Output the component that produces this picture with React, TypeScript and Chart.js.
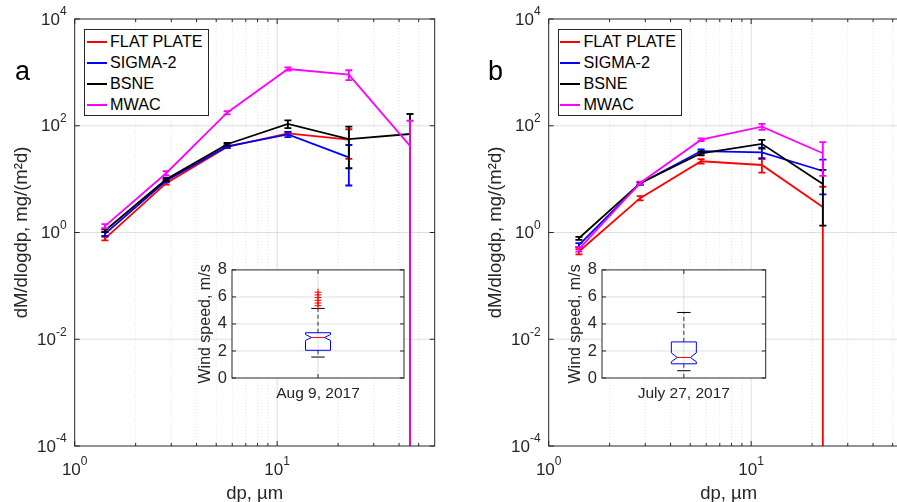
import React, { useEffect, useRef } from 'react';
import { Chart, registerables } from 'chart.js';

Chart.register(...registerables);

const FONT = "'Liberation Sans', Arial, Helvetica, sans-serif";
const AXIS_COLOR = '#262626';

const seriesNames = ['FLAT PLATE', 'SIGMA-2', 'BSNE', 'MWAC'];
const seriesColors = ['#ff0000', '#0000ff', '#000000', '#ff00ff'];

// Axis ticks
const xTickExponents = [0, 1];
const yTickExponents = [-4, -2, 0, 2, 4];
const xMinorTickValues = [2, 3, 4, 5, 6, 7, 8, 9, 20, 30, 40, 50];
const insetYTicks = [0, 2, 4, 6, 8];

// Panel a (Aug 9, 2017)
const dpA = [1.41, 2.83, 5.66, 11.3, 22.6, 45.3];
const flatPlateA = [0.77, 8.4, 40, 72, 55, null];
const flatPlateErrA = [0.06, 0.5, 2, 4, 31, null];
const sigma2A = [0.94, 9.3, 41, 69, 25.6, null];
const sigma2ErrA = [0.08, 0.6, 2.5, 8, 18, null];
const bsneA = [1.08, 9.9, 45, 108, 56, 70];
const bsneErrA = [0.06, 0.6, 2.5, 18, 40, 96];
const mwacA = [1.32, 12.9, 176, 1157, 905, 42];
const mwacErrA = [0.12, 1.2, 12, 80, 190, 82];

// Panel b (July 27, 2017)
const dpB = [1.41, 2.83, 5.66, 11.3, 22.6];
const flatPlateB = [0.44, 4.4, 21.6, 18.4, 3.0];
const flatPlateErrB = [0.05, 0.4, 2, 5.2, 4.2];
const sigma2B = [0.58, 8.3, 33.6, 31.8, 14.2];
const sigma2ErrB = [0.05, 0.5, 2.5, 7, 9];
const bsneB = [0.78, 8.4, 30.5, 45.8, 8.1];
const bsneErrB = [0.05, 0.4, 2.5, 8.5, 6.75];
const mwacB = [0.49, 8.5, 54.8, 96, 30.5];
const mwacErrB = [0.05, 0.5, 3, 12, 19];

// Wind speed box plots: [whiskerLow, q1, notchLow, median, notchHigh, q3, whiskerHigh]
const windLabelA = 'Aug 9, 2017';
const windStatsA = [1.55, 2.05, 2.78, 3.0, 3.22, 3.35, 5.15];
const windOutliersA = [5.35, 5.55, 5.75, 5.95, 6.15, 6.35];
const windLabelB = 'July 27, 2017';
const windStatsB = [0.54, 1.05, 1.2, 1.52, 1.86, 2.67, 4.85];
const windOutliersB: number[] = [];

const CAP = 3.5;
const LINE_W = 1.8;

const errorBarPlugin = {
  id: 'errorBars',
  afterDatasetDraw(chart: any, args: any) {
    const ds = chart.data.datasets[args.index];
    const errs = ds.errors;
    if (!errs) return;
    const { ctx, chartArea } = chart;
    const xs = chart.scales.x;
    const ys = chart.scales.y;
    ctx.save();
    ctx.beginPath();
    ctx.rect(chartArea.left, chartArea.top, chartArea.right - chartArea.left, chartArea.bottom - chartArea.top);
    ctx.clip();
    ctx.strokeStyle = ds.borderColor;
    ctx.lineWidth = LINE_W;
    ds.data.forEach((p: any, j: number) => {
      const e = errs[j];
      if (p.y == null || e == null) return;
      const px = xs.getPixelForValue(p.x);
      const hi = ys.getPixelForValue(p.y + e);
      const lowVal = p.y - e;
      const lo = lowVal > 0 ? ys.getPixelForValue(lowVal) : chartArea.bottom + 5;
      ctx.beginPath();
      ctx.moveTo(px, hi);
      ctx.lineTo(px, lo);
      ctx.moveTo(px - CAP, hi);
      ctx.lineTo(px + CAP, hi);
      if (lowVal > 0) {
        ctx.moveTo(px - CAP, lo);
        ctx.lineTo(px + CAP, lo);
      }
      ctx.stroke();
    });
    ctx.restore();
  },
};

const mainGridPlugin = {
  id: 'mainGrid',
  beforeDatasetsDraw(chart: any) {
    const { ctx, chartArea } = chart;
    const xs = chart.scales.x;
    const ys = chart.scales.y;
    ctx.save();
    ctx.lineWidth = 1;
    ctx.strokeStyle = 'rgba(38,38,38,0.13)';
    ctx.setLineDash([1, 2]);
    xMinorTickValues.forEach((v) => {
      const px = xs.getPixelForValue(v);
      ctx.beginPath();
      ctx.moveTo(px, chartArea.top);
      ctx.lineTo(px, chartArea.bottom);
      ctx.stroke();
    });
    ctx.setLineDash([]);
    ctx.strokeStyle = 'rgba(38,38,38,0.15)';
    xTickExponents.forEach((e) => {
      const px = xs.getPixelForValue(Math.pow(10, e));
      if (px <= chartArea.left + 1 || px >= chartArea.right - 1) return;
      ctx.beginPath();
      ctx.moveTo(px, chartArea.top);
      ctx.lineTo(px, chartArea.bottom);
      ctx.stroke();
    });
    yTickExponents.forEach((e) => {
      const py = ys.getPixelForValue(Math.pow(10, e));
      if (py <= chartArea.top + 1 || py >= chartArea.bottom - 1) return;
      ctx.beginPath();
      ctx.moveTo(chartArea.left, py);
      ctx.lineTo(chartArea.right, py);
      ctx.stroke();
    });
    ctx.restore();
  },
};

function expText(e: number) {
  return e < 0 ? '-' + Math.abs(e) : String(e);
}

const mainFramePlugin = {
  id: 'mainFrame',
  afterDatasetsDraw(chart: any) {
    const { ctx, chartArea } = chart;
    const { left, right, top, bottom } = chartArea;
    const xs = chart.scales.x;
    const ys = chart.scales.y;
    ctx.save();
    ctx.strokeStyle = AXIS_COLOR;
    ctx.lineWidth = 1;
    ctx.strokeRect(left, top, right - left, bottom - top);
    ctx.beginPath();
    xMinorTickValues.forEach((v) => {
      const px = xs.getPixelForValue(v);
      ctx.moveTo(px, bottom);
      ctx.lineTo(px, bottom - 3);
      ctx.moveTo(px, top);
      ctx.lineTo(px, top + 3);
    });
    xTickExponents.forEach((e) => {
      const px = xs.getPixelForValue(Math.pow(10, e));
      ctx.moveTo(px, bottom);
      ctx.lineTo(px, bottom - 5);
      ctx.moveTo(px, top);
      ctx.lineTo(px, top + 5);
    });
    yTickExponents.forEach((e) => {
      const py = ys.getPixelForValue(Math.pow(10, e));
      ctx.moveTo(left, py);
      ctx.lineTo(left + 5, py);
      ctx.moveTo(right, py);
      ctx.lineTo(right - 5, py);
    });
    ctx.stroke();

    // tick labels with superscript exponents
    ctx.fillStyle = AXIS_COLOR;
    ctx.textBaseline = 'middle';
    const baseFont = `17px ${FONT}`;
    const expFont = `12px ${FONT}`;
    xTickExponents.forEach((e) => {
      const px = xs.getPixelForValue(Math.pow(10, e));
      ctx.font = baseFont;
      const w10 = ctx.measureText('10').width;
      ctx.font = expFont;
      const we = ctx.measureText(expText(e)).width;
      const x0 = px - (w10 + we) / 2;
      ctx.textAlign = 'left';
      ctx.font = baseFont;
      ctx.fillText('10', x0, bottom + 24);
      ctx.font = expFont;
      ctx.fillText(expText(e), x0 + w10, bottom + 16);
    });
    yTickExponents.forEach((e) => {
      const py = ys.getPixelForValue(Math.pow(10, e));
      const xr = left - 8;
      ctx.font = expFont;
      const we = ctx.measureText(expText(e)).width;
      ctx.textAlign = 'right';
      ctx.fillText(expText(e), xr, py - 7);
      ctx.font = baseFont;
      ctx.fillText('10', xr - we, py + 1);
    });
    ctx.restore();
  },
};

function makeMainConfig(dp: number[], values: (number | null)[][], errors: (number | null)[][]): any {
  return {
    type: 'line',
    data: {
      datasets: values.map((vals, i) => ({
        label: seriesNames[i],
        data: dp.map((x, j) => ({ x, y: vals[j] })),
        errors: errors[i],
        borderColor: seriesColors[i],
        backgroundColor: seriesColors[i],
        borderWidth: LINE_W,
        pointRadius: 0,
        pointHoverRadius: 0,
        tension: 0,
        spanGaps: false,
        order: values.length - 1 - i,
      })),
    },
    options: {
      responsive: false,
      animation: false,
      events: [],
      layout: { padding: { left: 6.4, right: 15.3, top: 19, bottom: 11.4 } },
      plugins: { legend: { display: false }, tooltip: { enabled: false } },
      scales: {
        x: {
          type: 'logarithmic',
          min: 1,
          max: 60,
          ticks: { display: false },
          grid: { display: false, drawTicks: false },
          border: { display: false },
          title: {
            display: true,
            text: 'dp, µm',
            color: AXIS_COLOR,
            font: { family: FONT, size: 18.5 },
            padding: { top: 4, bottom: 4 },
          },
          afterFit: (s: any) => {
            s.height = 62.6;
          },
        },
        y: {
          type: 'logarithmic',
          min: 1e-4,
          max: 1e4,
          ticks: { display: false },
          grid: { display: false, drawTicks: false },
          border: { display: false },
          title: {
            display: true,
            text: 'dM/dlogdp, mg/(m²d)',
            color: AXIS_COLOR,
            font: { family: FONT, size: 18.5 },
            padding: { top: 4, bottom: 4 },
          },
          afterFit: (s: any) => {
            s.width = 68.3;
          },
        },
      },
    },
    plugins: [mainGridPlugin, errorBarPlugin, mainFramePlugin],
  };
}

function makeInsetPlugin(stats: number[]) {
  return {
    id: 'insetBox',
    beforeDraw(chart: any) {
      const { ctx, chartArea } = chart;
      ctx.save();
      ctx.fillStyle = '#ffffff';
      ctx.fillRect(chartArea.left, chartArea.top, chartArea.right - chartArea.left, chartArea.bottom - chartArea.top);
      ctx.restore();
    },
    beforeDatasetsDraw(chart: any) {
      const { ctx, chartArea } = chart;
      const xs = chart.scales.x;
      const ys = chart.scales.y;
      const cx = xs.getPixelForValue(0);
      ctx.save();
      // grid
      ctx.strokeStyle = 'rgba(38,38,38,0.15)';
      ctx.lineWidth = 1;
      ctx.beginPath();
      insetYTicks.forEach((v) => {
        if (v <= 0 || v >= 8) return;
        const py = ys.getPixelForValue(v);
        ctx.moveTo(chartArea.left, py);
        ctx.lineTo(chartArea.right, py);
      });
      ctx.moveTo(cx, chartArea.top);
      ctx.lineTo(cx, chartArea.bottom);
      ctx.stroke();

      const [wLow, q1, nLow, med, nHigh, q3, wHigh] = stats.map((v) => ys.getPixelForValue(v));
      const hw = 12.5;
      const nw = 6.5;
      const cw = 6.7;
      // whiskers
      ctx.strokeStyle = '#333333';
      ctx.setLineDash([4, 3]);
      ctx.beginPath();
      ctx.moveTo(cx, q3);
      ctx.lineTo(cx, wHigh);
      ctx.moveTo(cx, q1);
      ctx.lineTo(cx, wLow);
      ctx.stroke();
      ctx.setLineDash([]);
      ctx.strokeStyle = '#000000';
      ctx.beginPath();
      ctx.moveTo(cx - cw, wHigh);
      ctx.lineTo(cx + cw, wHigh);
      ctx.moveTo(cx - cw, wLow);
      ctx.lineTo(cx + cw, wLow);
      ctx.stroke();
      // notched box
      ctx.strokeStyle = '#0000ff';
      ctx.beginPath();
      ctx.moveTo(cx - hw, q3);
      ctx.lineTo(cx + hw, q3);
      ctx.lineTo(cx + hw, nHigh);
      ctx.lineTo(cx + nw, med);
      ctx.lineTo(cx + hw, nLow);
      ctx.lineTo(cx + hw, q1);
      ctx.lineTo(cx - hw, q1);
      ctx.lineTo(cx - hw, nLow);
      ctx.lineTo(cx - nw, med);
      ctx.lineTo(cx - hw, nHigh);
      ctx.closePath();
      ctx.stroke();
      // median
      ctx.strokeStyle = '#ff0000';
      ctx.beginPath();
      ctx.moveTo(cx - nw, med);
      ctx.lineTo(cx + nw, med);
      ctx.stroke();
      ctx.restore();
    },
    afterDatasetsDraw(chart: any) {
      const { ctx, chartArea } = chart;
      const { left, right, top, bottom } = chartArea;
      const xs = chart.scales.x;
      const ys = chart.scales.y;
      const cx = xs.getPixelForValue(0);
      ctx.save();
      ctx.strokeStyle = AXIS_COLOR;
      ctx.lineWidth = 1;
      ctx.strokeRect(left, top, right - left, bottom - top);
      ctx.beginPath();
      insetYTicks.forEach((v) => {
        const py = ys.getPixelForValue(v);
        ctx.moveTo(left, py);
        ctx.lineTo(left + 4, py);
        ctx.moveTo(right, py);
        ctx.lineTo(right - 4, py);
      });
      ctx.moveTo(cx, bottom);
      ctx.lineTo(cx, bottom - 4);
      ctx.moveTo(cx, top);
      ctx.lineTo(cx, top + 4);
      ctx.stroke();
      ctx.restore();
    },
  };
}

function makeInsetConfig(label: string, stats: number[], outliers: number[], padRight: number): any {
  return {
    type: 'line',
    data: {
      labels: [label],
      datasets: [
        {
          data: outliers.map((v) => ({ x: label, y: v })),
          showLine: false,
          pointStyle: 'cross',
          pointRadius: 3.5,
          pointHoverRadius: 3.5,
          borderColor: '#ff0000',
          backgroundColor: '#ff0000',
          borderWidth: 1,
        },
      ],
    },
    options: {
      responsive: false,
      animation: false,
      events: [],
      layout: { padding: { left: 12.4, right: padRight, top: 14, bottom: 7 } },
      plugins: { legend: { display: false }, tooltip: { enabled: false } },
      scales: {
        x: {
          type: 'category',
          offset: true,
          grid: { display: false, drawTicks: false },
          border: { display: false },
          ticks: { color: AXIS_COLOR, font: { family: FONT, size: 15.5 }, padding: 6, maxRotation: 0 },
          afterFit: (s: any) => {
            s.height = 30;
          },
        },
        y: {
          type: 'linear',
          min: 0,
          max: 8,
          afterBuildTicks: (s: any) => {
            s.ticks = insetYTicks.map((v) => ({ value: v }));
          },
          grid: { display: false, drawTicks: false },
          border: { display: false },
          ticks: { color: AXIS_COLOR, font: { family: FONT, size: 16.5 }, padding: 5 },
          title: {
            display: true,
            text: 'Wind speed, m/s',
            color: AXIS_COLOR,
            font: { family: FONT, size: 16 },
            padding: { top: 4, bottom: 4 },
          },
          afterFit: (s: any) => {
            s.width = 39.6;
          },
        },
      },
    },
    plugins: [makeInsetPlugin(stats)],
  };
}

function Legend({ left, top }: { left: number; top: number }) {
  return (
    <div
      style={{
        position: 'absolute',
        left,
        top,
        width: 124.4,
        height: 86.7,
        boxSizing: 'border-box',
        border: '1px solid #262626',
        background: '#fff',
      }}
    >
      {seriesNames.map((name, i) => (
        <div key={name} style={{ position: 'absolute', left: 0, top: 1.2 + i * 21, height: 21, width: '100%' }}>
          <div style={{ position: 'absolute', left: 1.7, top: 9.5, width: 20, height: 2, background: seriesColors[i] }} />
          <div
            style={{
              position: 'absolute',
              left: 24.7,
              top: 0,
              lineHeight: '21px',
              fontSize: 16.2,
              fontFamily: FONT,
              color: '#000',
              whiteSpace: 'nowrap',
            }}
          >
            {name}
          </div>
        </div>
      ))}
    </div>
  );
}

function PanelLetter({ left, text }: { left: number; text: string }) {
  return (
    <div
      style={{
        position: 'absolute',
        left,
        top: 58,
        fontSize: 27,
        lineHeight: '27px',
        fontFamily: FONT,
        color: '#000',
      }}
    >
      {text}
    </div>
  );
}

export default function App() {
  const mainARef = useRef<HTMLCanvasElement>(null);
  const mainBRef = useRef<HTMLCanvasElement>(null);
  const insetARef = useRef<HTMLCanvasElement>(null);
  const insetBRef = useRef<HTMLCanvasElement>(null);

  useEffect(() => {
    const charts: Chart[] = [];
    charts.push(
      new Chart(
        mainARef.current!,
        makeMainConfig(dpA, [flatPlateA, sigma2A, bsneA, mwacA], [flatPlateErrA, sigma2ErrA, bsneErrA, mwacErrA])
      )
    );
    charts.push(
      new Chart(
        mainBRef.current!,
        makeMainConfig(dpB, [flatPlateB, sigma2B, bsneB, mwacB], [flatPlateErrB, sigma2ErrB, bsneErrB, mwacErrB])
      )
    );
    charts.push(new Chart(insetARef.current!, makeInsetConfig(windLabelA, windStatsA, windOutliersA, 16)));
    charts.push(new Chart(insetBRef.current!, makeInsetConfig(windLabelB, windStatsB, windOutliersB, 24.3)));
    return () => charts.forEach((c) => c.destroy());
  }, []);

  return (
    <div
      style={{
        position: 'fixed',
        left: 0,
        top: 0,
        width: 897,
        height: 502,
        overflow: 'hidden',
        background: '#fff',
      }}
    >
      <canvas ref={mainARef} width={450} height={520} style={{ position: 'absolute', left: 0, top: 0 }} />
      <canvas ref={mainBRef} width={450} height={520} style={{ position: 'absolute', left: 474, top: 0 }} />
      <canvas ref={insetARef} width={240} height={160} style={{ position: 'absolute', left: 180, top: 255 }} />
      <canvas ref={insetBRef} width={240} height={160} style={{ position: 'absolute', left: 550.3, top: 255 }} />
      <Legend left={84.3} top={29} />
      <Legend left={557.7} top={29} />
      <PanelLetter left={15} text="a" />
      <PanelLetter left={488} text="b" />
    </div>
  );
}
